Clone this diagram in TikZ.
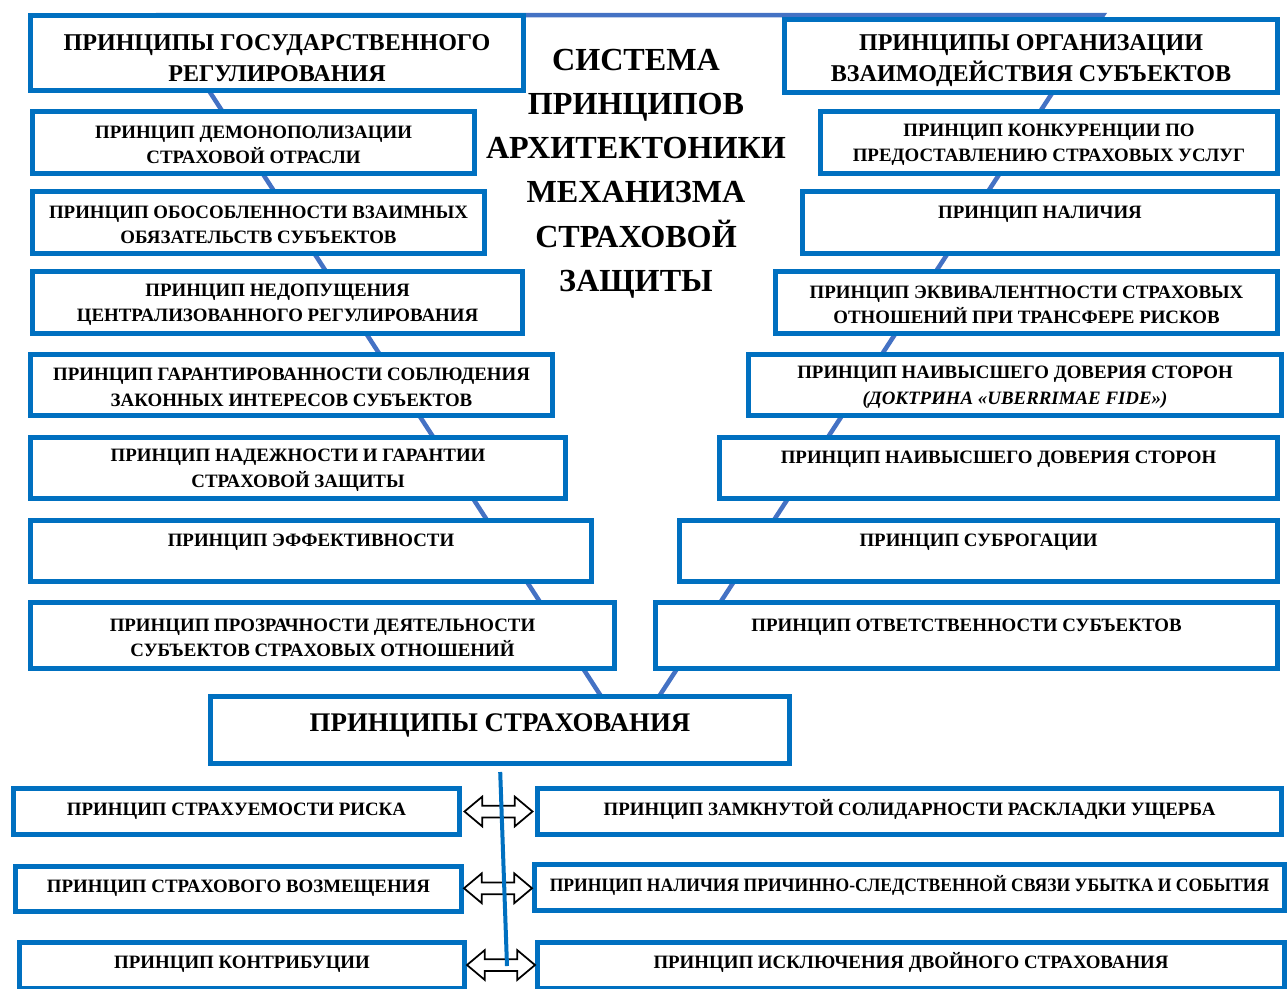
\documentclass[tikz,border=0pt]{standalone}
\usepackage{fontspec}
\usepackage{graphicx}
\setmainfont{Liberation Serif}
\usetikzlibrary{positioning,calc,shapes.arrows}
\definecolor{boxblue}{HTML}{0070C0}
\definecolor{triblue}{HTML}{4472C4}
\tikzset{%
  pbox/.style = {rectangle,draw=boxblue,line width=0.1cm,fill=white,
        align=center,inner sep=0pt,font=\bfseries\fontsize{10.75}{14.5}\selectfont,
        text height=24.3pt},
  hbox/.style = {pbox,font=\bfseries\fontsize{13.7}{17.5}\selectfont,
        text height=32.1pt},
  bbox/.style = {pbox,text height=7.5pt,text depth=3.4pt},
  sz/.style 2 args = {minimum width=#1*0.02cm,minimum height=#2*0.02cm},
  tri/.style = {draw=triblue,line width=0.09cm},
  stem/.style = {draw=boxblue,line width=0.08cm},
  dbl/.style = {double arrow,draw=black,fill=white,line width=1pt,
        minimum height=1.36cm,inner xsep=0pt,inner ysep=0.1cm,
        double arrow head extend=0.18cm,double arrow tip angle=80}
}

\begin{document}
\begin{tikzpicture}[x=0.02cm,y=-0.02cm]
        \useasboundingbox (0,0) rectangle (1288,988);
        % V behind both columns
        \coordinate (tl) at (160,15);
        \coordinate (tr) at (1103,15);
        \coordinate (tip) at (630,741);
        \draw [tri] (tl) -- (tr) -- (tip) -- cycle;
        % title
        \node (title) at (636,173.5) [align=center,font=\bfseries\fontsize{18.3}{25.2}\selectfont]
            {СИСТЕМА\\ПРИНЦИПОВ\\АРХИТЕКТОНИКИ\\МЕХАНИЗМА\\СТРАХОВОЙ\\ЗАЩИТЫ};
        % left column
        \node [hbox,sz={493}{75}] (l0) at (277,53) {ПРИНЦИПЫ ГОСУДАРСТВЕННОГО\\РЕГУЛИРОВАНИЯ};
        \node [pbox,sz={442}{62}] (l1) at (253.5,142.5) {ПРИНЦИП ДЕМОНОПОЛИЗАЦИИ\\СТРАХОВОЙ ОТРАСЛИ};
        \node [pbox,sz={452}{62}] (l2) at (258.5,222.5) {ПРИНЦИП ОБОСОБЛЕННОСТИ ВЗАИМНЫХ\\ОБЯЗАТЕЛЬСТВ СУБЪЕКТОВ};
        \node [pbox,sz={490}{62}] (l3) at (277.5,302.5) {ПРИНЦИП НЕДОПУЩЕНИЯ\\ЦЕНТРАЛИЗОВАННОГО РЕГУЛИРОВАНИЯ};
        \node [pbox,sz={522}{61}] (l4) at (291.5,385) {ПРИНЦИП ГАРАНТИРОВАННОСТИ СОБЛЮДЕНИЯ\\ЗАКОННЫХ ИНТЕРЕСОВ СУБЪЕКТОВ};
        \node [pbox,sz={535}{61}] (l5) at (298,468) {ПРИНЦИП НАДЕЖНОСТИ И ГАРАНТИИ\\СТРАХОВОЙ ЗАЩИТЫ};
        \node [pbox,sz={561}{61}] (l6) at (311,551) {ПРИНЦИП ЭФФЕКТИВНОСТИ\\\mbox{}};
        \node [pbox,sz={584}{66}] (l7) at (322.5,635.5) {ПРИНЦИП ПРОЗРАЧНОСТИ ДЕЯТЕЛЬНОСТИ\\СУБЪЕКТОВ СТРАХОВЫХ ОТНОШЕНИЙ};
        % right column
        \node [hbox,sz={493}{73}] (r0) at (1031,56) {ПРИНЦИПЫ ОРГАНИЗАЦИИ\\ВЗАИМОДЕЙСТВИЯ СУБЪЕКТОВ};
        \node [pbox,sz={457}{62}] (r1) at (1049,142.5) {ПРИНЦИП КОНКУРЕНЦИИ ПО\\ПРЕДОСТАВЛЕНИЮ СТРАХОВЫХ УСЛУГ};
        \node [pbox,sz={475}{62}] (r2) at (1040,222.5) {ПРИНЦИП НАЛИЧИЯ\\\mbox{}};
        \node [pbox,sz={502}{62}] (r3) at (1026.5,302.5) {ПРИНЦИП ЭКВИВАЛЕНТНОСТИ СТРАХОВЫХ\\ОТНОШЕНИЙ ПРИ ТРАНСФЕРЕ РИСКОВ};
        \node [pbox,sz={533}{61}] (r4) at (1015,385) {ПРИНЦИП НАИВЫСШЕГО ДОВЕРИЯ СТОРОН\\{\itshape (ДОКТРИНА «UBERRIMAE FIDE»)}};
        \node [pbox,sz={558}{61}] (r5) at (998.5,468) {ПРИНЦИП НАИВЫСШЕГО ДОВЕРИЯ СТОРОН\\\mbox{}};
        \node [pbox,sz={598}{61}] (r6) at (978.5,551) {ПРИНЦИП СУБРОГАЦИИ\\\mbox{}};
        \node [pbox,sz={622}{66}] (r7) at (966.5,635.5) {ПРИНЦИП ОТВЕТСТВЕННОСТИ СУБЪЕКТОВ\\\mbox{}};
        % insurance principles
        \node [pbox,sz={579}{67},font=\bfseries\fontsize{15.3}{18}\selectfont,text height=19.5pt] (ins) at (500,730)
            {ПРИНЦИПЫ СТРАХОВАНИЯ\\[-9pt]\mbox{}};
        \node [bbox,sz={446}{46}] (bl1) at (236.5,811.5) {ПРИНЦИП СТРАХУЕМОСТИ РИСКА};
        \node [bbox,sz={744}{46}] (br1) at (909.5,811.5) {ПРИНЦИП ЗАМКНУТОЙ СОЛИДАРНОСТИ РАСКЛАДКИ УЩЕРБА};
        \node [bbox,sz={446}{45}] (bl2) at (238.5,889) {ПРИНЦИП СТРАХОВОГО ВОЗМЕЩЕНИЯ};
        \node [bbox,sz={750}{46}] (br2) at (909.5,887.5)
            {\scalebox{0.93}[1]{ПРИНЦИП НАЛИЧИЯ ПРИЧИННО-СЛЕДСТВЕННОЙ СВЯЗИ УБЫТКА И СОБЫТИЯ}};
        \node [bbox,sz={445}{46}] (bl3) at (242,965) {ПРИНЦИП КОНТРИБУЦИИ};
        \node [bbox,sz={747}{46}] (br3) at (911,965) {ПРИНЦИП ИСКЛЮЧЕНИЯ ДВОЙНОГО СТРАХОВАНИЯ};
        % links between pairs
        \node [dbl] (a1) at ($(bl1.east)!0.5!(br1.west)$) {};
        \node [dbl] (a2) at ($(bl2.east)!0.5!(br2.west)$) {};
        \node [dbl] (a3) at ($(bl3.east)!0.5!(br3.west)$) {};
        \coordinate (stemend) at (507,966);
        \draw [stem,shorten <=0.12cm] (ins.south) -- (stemend);
    \end{tikzpicture}
\end{document}
